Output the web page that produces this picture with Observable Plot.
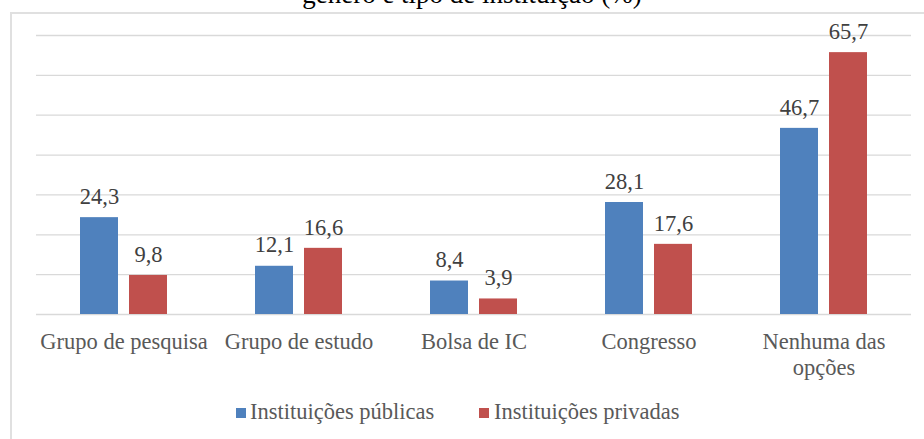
<!DOCTYPE html>
<html>
<head>
<meta charset="utf-8">
<script src="https://cdn.jsdelivr.net/npm/d3@7"></script>
<script src="https://cdn.jsdelivr.net/npm/@observablehq/plot@0.6"></script>
<style>
  html, body { margin: 0; padding: 0; background: #fff; overflow: hidden; }
  #wrap { position: relative; width: 924px; height: 439px; font-family: "Liberation Serif", "Times New Roman", serif; }
  #border { position: absolute; left: 10px; top: 12px; width: 940px; height: 460px; border: 2px solid #e0e0e0; box-sizing: border-box; }
  #title { position: absolute; left: 0; width: 944px; text-align: center; top: -21px; font-size: 27px; color: #000; white-space: nowrap; font-family: "Liberation Serif", serif; }
  #chart { position: absolute; left: 0; top: 0; }
  #chart svg, #chart svg text { font-family: "Liberation Serif", serif !important; }
  #legend { position: absolute; left: 0; width: 924px; top: 399px; height: 26px; font-size: 22.5px; color: #595959; font-family: "Liberation Serif", serif; }
  .item { position: absolute; top: 0; line-height: 26px; white-space: nowrap; }
  .sw { position: absolute; width: 10px; height: 10px; top: 9px; }
</style>
</head>
<body>
<div id="wrap">
  <div id="border"></div>
  <div id="title">gênero e tipo de instituição (%)</div>
  <div id="chart"></div>
  <div id="legend"></div>
</div>
<script>
const categories = ["Grupo de pesquisa", "Grupo de estudo", "Bolsa de IC", "Congresso", "Nenhuma das opções"];
const seriesNames = ["Instituições públicas", "Instituições privadas"];
const publicas = [24.3, 12.1, 8.4, 28.1, 46.7];
const privadas = [9.8, 16.6, 3.9, 17.6, 65.7];
const colors = ["#4F81BD", "#C0504D"];
const yTicks = [0, 10, 20, 30, 40, 50, 60, 70];

const data = [];
categories.forEach((c, i) => {
  data.push({category: c, series: seriesNames[0], value: publicas[i]});
  data.push({category: c, series: seriesNames[1], value: privadas[i]});
});
const fmt = v => v.toFixed(1).replace(".", ",");
const catLabel = c => c === "Nenhuma das opções" ? "Nenhuma das\nopções" : c;

const plot = Plot.plot({
  width: 924,
  height: 390,
  marginLeft: 35,
  marginRight: 12,
  marginTop: 35,
  marginBottom: 76,
  style: "font-family: 'Liberation Serif', serif; background: transparent;",
  fx: {domain: categories, padding: 0, label: null},
  x: {domain: seriesNames, paddingInner: 0.22, paddingOuter: 0.864, axis: null},
  y: {domain: [0, 70], axis: null},
  color: {domain: seriesNames, range: colors},
  marks: [
    Plot.ruleY(yTicks, {stroke: "#d9d9d9", strokeWidth: 1.3, strokeOpacity: 1}),
    Plot.barY(data, {fx: "category", x: "series", y: "value", fill: "series"}),
    Plot.text(data, {fx: "category", x: "series", y: "value", text: d => fmt(d.value), dy: -21, fontSize: 22.5, fill: "#404040"}),
    Plot.axisFx({anchor: "bottom", tickSize: 0, tickPadding: 16, tickFormat: catLabel, fontSize: 22.5, fill: "#595959", label: null, lineHeight: 1.15})
  ]
});
document.getElementById("chart").appendChild(plot);

const legend = document.getElementById("legend");
const pos = [{sw: 236, tx: 250}, {sw: 479, tx: 494}];
seriesNames.forEach((s, i) => {
  const sw = document.createElement("div");
  sw.className = "sw";
  sw.style.left = pos[i].sw + "px";
  sw.style.background = colors[i];
  legend.appendChild(sw);
  const t = document.createElement("div");
  t.className = "item";
  t.style.left = pos[i].tx + "px";
  t.textContent = s;
  legend.appendChild(t);
});
</script>
</body>
</html>
